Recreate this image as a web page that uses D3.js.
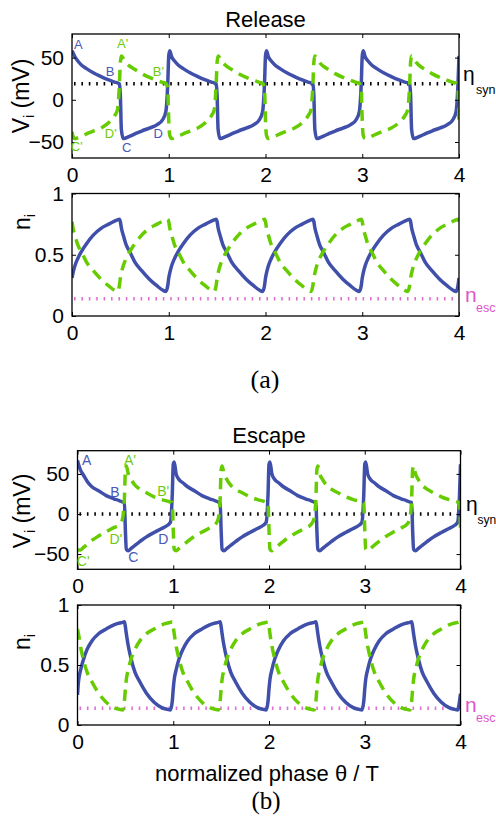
<!DOCTYPE html>
<html><head><meta charset="utf-8">
<script src="https://cdn.jsdelivr.net/npm/d3@7/dist/d3.min.js"></script>
<style>
body{margin:0;background:#fff;}
svg{display:block;font-family:Arial,"Liberation Sans",Helvetica,sans-serif;}
</style>
</head><body>
<svg id="c" width="496" height="824"></svg>
<script>
// ---------------- DATA ----------------
const phase = [
0,0.01,0.03,0.06,0.1,0.15,0.22,0.3,0.38,0.44,0.47,0.49,
0.5,0.51,0.53,0.56,0.6,0.65,0.72,0.8,0.88,0.94,0.97,0.99,
1,1.01,1.03,1.06,1.1,1.15,1.22,1.3,1.38,1.44,1.47,1.49,
1.5,1.51,1.53,1.56,1.6,1.65,1.72,1.8,1.88,1.94,1.97,1.99,
2,2.01,2.03,2.06,2.1,2.15,2.22,2.3,2.38,2.44,2.47,2.49,
2.5,2.51,2.53,2.56,2.6,2.65,2.72,2.8,2.88,2.94,2.97,2.99,
3,3.01,3.03,3.06,3.1,3.15,3.22,3.3,3.38,3.44,3.47,3.49,
3.5,3.51,3.53,3.56,3.6,3.65,3.72,3.8,3.88,3.94,3.97,3.99,
4];

// (a) Release
const releaseVBlue = [
58,56,51,46,41,37,32,27.5,23.5,21,20,19,
5,-35,-46,-45,-43,-40.5,-37,-33.5,-29.5,-23,-14,20,
52,58,51,46,41,37,32,27.5,23.5,21,20,19,
5,-35,-46,-45,-43,-40.5,-37,-33.5,-29.5,-23,-14,20,
52,58,51,46,41,37,32,27.5,23.5,21,20,19,
5,-35,-46,-45,-43,-40.5,-37,-33.5,-29.5,-23,-14,20,
52,58,51,46,41,37,32,27.5,23.5,21,20,19,
5,-35,-46,-45,-43,-40.5,-37,-33.5,-29.5,-23,-14,20,
52];
const releaseVGreen = [
-38,-43,-46,-45,-43,-40.5,-37,-33.5,-27,-19,-12,18,
45,52,49,44,39.5,36,31,26.5,23,20.5,19.5,12,
-25,-42,-46,-45,-43,-40.5,-37,-33.5,-27,-19,-12,18,
45,52,49,44,39.5,36,31,26.5,23,20.5,19.5,12,
-25,-42,-46,-45,-43,-40.5,-37,-33.5,-27,-19,-12,18,
45,52,49,44,39.5,36,31,26.5,23,20.5,19.5,12,
-25,-42,-46,-45,-43,-40.5,-37,-33.5,-27,-19,-12,18,
45,52,49,44,39.5,36,31,26.5,23,20.5,19.5,12,
-25];
const releaseNBlue = [
0.31,0.35,0.41,0.47,0.53,0.59,0.66,0.715,0.75,0.775,0.785,0.79,
0.77,0.72,0.66,0.58,0.52,0.44,0.37,0.30,0.245,0.21,0.20,0.25,
0.31,0.35,0.41,0.47,0.53,0.59,0.66,0.715,0.75,0.775,0.785,0.79,
0.77,0.72,0.66,0.58,0.52,0.44,0.37,0.30,0.245,0.21,0.20,0.25,
0.31,0.35,0.41,0.47,0.53,0.59,0.66,0.715,0.75,0.775,0.785,0.79,
0.77,0.72,0.66,0.58,0.52,0.44,0.37,0.30,0.245,0.21,0.20,0.25,
0.31,0.35,0.41,0.47,0.53,0.59,0.66,0.715,0.75,0.775,0.785,0.79,
0.77,0.72,0.66,0.58,0.52,0.44,0.37,0.30,0.245,0.21,0.20,0.25,
0.31];
const releaseNGreen = [
0.77,0.72,0.66,0.58,0.52,0.44,0.37,0.30,0.245,0.21,0.20,0.25,
0.31,0.35,0.41,0.47,0.53,0.59,0.66,0.715,0.75,0.775,0.785,0.79,
0.77,0.72,0.66,0.58,0.52,0.44,0.37,0.30,0.245,0.21,0.20,0.25,
0.31,0.35,0.41,0.47,0.53,0.59,0.66,0.715,0.75,0.775,0.785,0.79,
0.77,0.72,0.66,0.58,0.52,0.44,0.37,0.30,0.245,0.21,0.20,0.25,
0.31,0.35,0.41,0.47,0.53,0.59,0.66,0.715,0.75,0.775,0.785,0.79,
0.77,0.72,0.66,0.58,0.52,0.44,0.37,0.30,0.245,0.21,0.20,0.25,
0.31,0.35,0.41,0.47,0.53,0.59,0.66,0.715,0.75,0.775,0.785,0.79,
0.77];

// (b) Escape
const escapeVBlue = [
67,62,55,49,41,34,29,23,19,16.5,15,14.5,
-20,-44,-46,-43,-39,-34.5,-28.5,-23,-18,-14,-10.5,25,
62,65,50,43,39,34,29,23,19,16.5,15,14.5,
-20,-44,-46,-43,-39,-34.5,-28.5,-23,-18,-14,-10.5,25,
62,65,50,43,39,34,29,23,19,16.5,15,14.5,
-20,-44,-46,-43,-39,-34.5,-28.5,-23,-18,-14,-10.5,25,
62,65,50,43,39,34,29,23,19,16.5,15,14.5,
-20,-44,-46,-43,-39,-34.5,-28.5,-23,-18,-14,-10.5,25,
62];
const escapeVGreen = [
-46,-45,-45,-42,-38,-33,-27.5,-22,-17,-13,-6,20,
55,60,50,43,36,31,26.5,21.5,18,16,15,14.5,
-20,-44,-46,-43,-39,-34,-28,-22.5,-17.5,-13,-6,20,
55,60,50,43,36,31,26.5,21.5,18,16,15,14.5,
-20,-44,-46,-43,-39,-34,-28,-22.5,-17.5,-13,-6,20,
55,60,50,43,36,31,26.5,21.5,18,16,15,14.5,
-20,-44,-46,-43,-39,-34,-28,-22.5,-17.5,-13,-6,20,
55,60,50,43,36,31,26.5,21.5,18,16,15,14.5,
-20];
const escapeNBlue = [
0.25,0.36,0.45,0.54,0.63,0.70,0.76,0.80,0.835,0.85,0.855,0.86,
0.82,0.76,0.66,0.55,0.44,0.36,0.265,0.19,0.145,0.13,0.125,0.2,
0.30,0.38,0.46,0.55,0.63,0.70,0.76,0.80,0.835,0.85,0.855,0.86,
0.82,0.76,0.66,0.55,0.44,0.36,0.265,0.19,0.145,0.13,0.125,0.2,
0.30,0.38,0.46,0.55,0.63,0.70,0.76,0.80,0.835,0.85,0.855,0.86,
0.82,0.76,0.66,0.55,0.44,0.36,0.265,0.19,0.145,0.13,0.125,0.2,
0.30,0.38,0.46,0.55,0.63,0.70,0.76,0.80,0.835,0.85,0.855,0.86,
0.82,0.76,0.66,0.55,0.44,0.36,0.265,0.19,0.145,0.13,0.125,0.2,
0.26];
const escapeNGreen = [
0.80,0.76,0.66,0.55,0.44,0.36,0.265,0.19,0.145,0.13,0.125,0.2,
0.30,0.38,0.46,0.55,0.63,0.70,0.76,0.80,0.835,0.85,0.855,0.86,
0.82,0.76,0.66,0.55,0.44,0.36,0.265,0.19,0.145,0.13,0.125,0.2,
0.30,0.38,0.46,0.55,0.63,0.70,0.76,0.80,0.835,0.85,0.855,0.86,
0.82,0.76,0.66,0.55,0.44,0.36,0.265,0.19,0.145,0.13,0.125,0.2,
0.30,0.38,0.46,0.55,0.63,0.70,0.76,0.80,0.835,0.85,0.855,0.86,
0.82,0.76,0.66,0.55,0.44,0.36,0.265,0.19,0.145,0.13,0.125,0.2,
0.30,0.38,0.46,0.55,0.63,0.70,0.76,0.80,0.835,0.85,0.855,0.86,
0.82];

const xTicks = [0,1,2,3,4];
const vTicks = [-50,0,50];
const vTickLabels = ["\u221250","0","50"];
const nTicks = [0,0.5,1];
const nTickLabels = ["0","0.5","1"];

const releaseEtaSyn = 19;
const escapeEtaSyn = 0;
const nEsc = 0.14;

const pointLabels = ["A","B","C","D","A'","B'","C'","D'"];
const releaseLabelT = [0.065,0.393,0.565,0.892,0.524,0.892,0.049,0.40];
const releaseLabelV = [65.3,33.8,-56.3,-40.5,66.2,33.8,-55.1,-39.4];
const escapeLabelT = [0.096,0.39,0.583,0.896,0.548,0.896,0.06,0.40];
const escapeLabelV = [67.4,27.8,-53.3,-31.2,67.4,28.7,-58.6,-31.2];

// ---------------- DRAW ----------------
const BLUE = "#4050aa", GREEN = "#66cc00", MAG = "#dd55cc";
const svg = d3.select("#c");
let clipN = 0;

function panel(cfg) {
  const x = d3.scaleLinear().domain([0, 4]).range([cfg.x0, cfg.x1]);
  const y = d3.scaleLinear().domain(cfg.dom).range([cfg.y1, cfg.y0]);
  const g = svg.append("g");
  const id = "clip" + (clipN++);
  svg.append("clipPath").attr("id", id).append("rect")
    .attr("x", cfg.x0).attr("y", cfg.y0)
    .attr("width", cfg.x1 - cfg.x0).attr("height", cfg.y1 - cfg.y0);

  // reference dotted line
  g.append("line")
    .attr("x1", cfg.x0 + 2).attr("x2", cfg.x1)
    .attr("y1", y(cfg.ref)).attr("y2", y(cfg.ref))
    .attr("stroke", cfg.refColor).attr("stroke-width", 3.5)
    .attr("stroke-dasharray", "1.6,5.8");

  const line = d3.line()
    .x((d, i) => x(phase[i])).y(d => y(d))
    .curve(d3.curveMonotoneX);
  const lg = g.append("g").attr("clip-path", `url(#${id})`);
  lg.append("path").datum(cfg.blue).attr("d", line)
    .attr("fill", "none").attr("stroke", BLUE).attr("stroke-width", 3.5)
    .attr("stroke-linejoin", "round");
  lg.append("path").datum(cfg.green).attr("d", line)
    .attr("fill", "none").attr("stroke", GREEN).attr("stroke-width", 3.5)
    .attr("stroke-dasharray", "11,7");

  // axes (ticks inward)
  const ax = [
    g.append("g").attr("transform", `translate(0,${cfg.y1})`)
      .call(d3.axisBottom(x).tickValues(xTicks).tickFormat(d3.format("d")).tickSize(-4).tickPadding(9)),
    g.append("g").attr("transform", `translate(0,${cfg.y0})`)
      .call(d3.axisTop(x).tickValues(xTicks).tickFormat("").tickSize(-4)),
    g.append("g").attr("transform", `translate(${cfg.x0},0)`)
      .call(d3.axisLeft(y).tickValues(cfg.yTicks).tickFormat((d, i) => cfg.yTickLabels[i]).tickSize(-4).tickPadding(8)),
    g.append("g").attr("transform", `translate(${cfg.x1},0)`)
      .call(d3.axisRight(y).tickValues(cfg.yTicks).tickFormat("").tickSize(-4))
  ];
  ax.forEach(a => {
    a.select(".domain").remove();
    a.selectAll("line").attr("stroke", "#000").attr("stroke-width", 1);
    a.selectAll("text").attr("font-size", 21).attr("fill", "#000")
      .attr("font-family", "Arial, 'Liberation Sans', sans-serif");
  });
  // frame
  g.append("rect").attr("x", cfg.x0).attr("y", cfg.y0)
    .attr("width", cfg.x1 - cfg.x0).attr("height", cfg.y1 - cfg.y0)
    .attr("fill", "none").attr("stroke", "#000").attr("stroke-width", 1.3);

  // point labels
  if (cfg.labT) {
    pointLabels.forEach((t, i) => {
      g.append("text").attr("x", x(cfg.labT[i])).attr("y", y(cfg.labV[i]))
        .attr("text-anchor", "middle").attr("dominant-baseline", "central")
        .attr("font-size", cfg.labSize).attr("fill", i < 4 ? "#4a56b8" : "#6ccb10")
        .text(t);
    });
  }
  // y label
  const yl = g.append("text")
    .attr("transform", `translate(${cfg.ylx},${cfg.yly}) rotate(-90)`)
    .attr("text-anchor", "middle").attr("font-size", 23).attr("fill", "#000");
  yl.append("tspan").text(cfg.ylab);
  yl.append("tspan").attr("font-size", 14).attr("dy", 5).text("i");
  if (cfg.ylabRest) yl.append("tspan").attr("dy", -5).text(cfg.ylabRest);

  // right reference label
  g.append("text").attr("x", cfg.rlx).attr("y", cfg.rly)
    .attr("font-size", 21).attr("fill", cfg.refTextColor).text(cfg.rl);
  g.append("text").attr("x", cfg.rsx).attr("y", cfg.rsy)
    .attr("font-size", cfg.rsSize).attr("fill", cfg.refTextColor).text(cfg.rs);
  return {x, y};
}

// (a) Release
panel({x0:72, x1:459, y0:34, y1:158, dom:[-69,78], yTicks:vTicks, yTickLabels:vTickLabels,
  blue:releaseVBlue, green:releaseVGreen, ref:releaseEtaSyn, refColor:"#000", refTextColor:"#000",
  labT:releaseLabelT, labV:releaseLabelV, labSize:13,
  ylx:29, yly:96, ylab:"V", ylabRest:" (mV)",
  rl:"\u03b7", rlx:463, rly:81, rs:"syn", rsx:476, rsy:94, rsSize:12.5});
panel({x0:72, x1:459, y0:193.5, y1:316, dom:[0,1], yTicks:nTicks, yTickLabels:nTickLabels,
  blue:releaseNBlue, green:releaseNGreen, ref:nEsc, refColor:"#e070d0", refTextColor:MAG,
  ylx:30, yly:222, ylab:"n",
  rl:"n", rlx:465, rly:302, rs:"esc", rsx:476, rsy:312, rsSize:12.5});
// (b) Escape
panel({x0:77.5, x1:460.5, y0:450.7, y1:569.3, dom:[-69,79], yTicks:vTicks, yTickLabels:vTickLabels,
  blue:escapeVBlue, green:escapeVGreen, ref:escapeEtaSyn, refColor:"#000", refTextColor:"#000",
  labT:escapeLabelT, labV:escapeLabelV, labSize:14,
  ylx:30, yly:511, ylab:"V", ylabRest:" (mV)",
  rl:"\u03b7", rlx:466, rly:511, rs:"syn", rsx:477.5, rsy:524, rsSize:12});
panel({x0:77.5, x1:460.5, y0:605, y1:725, dom:[0,1], yTicks:nTicks, yTickLabels:nTickLabels,
  blue:escapeNBlue, green:escapeNGreen, ref:nEsc, refColor:"#e070d0", refTextColor:MAG,
  ylx:30, yly:642, ylab:"n",
  rl:"n", rlx:465, rly:712, rs:"esc", rsx:476, rsy:722, rsSize:12.5});

// titles and captions
svg.append("text").attr("x", 265.5).attr("y", 27).attr("text-anchor", "middle")
  .attr("font-size", 22).text("Release");
svg.append("text").attr("x", 269).attr("y", 443).attr("text-anchor", "middle")
  .attr("font-size", 22).text("Escape");
svg.append("text").attr("x", 267).attr("y", 781).attr("text-anchor", "middle")
  .attr("font-size", 22).text("normalized phase \u03b8 / T");
svg.append("text").attr("x", 265).attr("y", 388).attr("text-anchor", "middle")
  .attr("font-family", "'Liberation Serif','Times New Roman',serif").attr("font-size", 26).text("(a)");
svg.append("text").attr("x", 266).attr("y", 809).attr("text-anchor", "middle")
  .attr("font-family", "'Liberation Serif','Times New Roman',serif").attr("font-size", 25).text("(b)");
</script>
</body></html>
